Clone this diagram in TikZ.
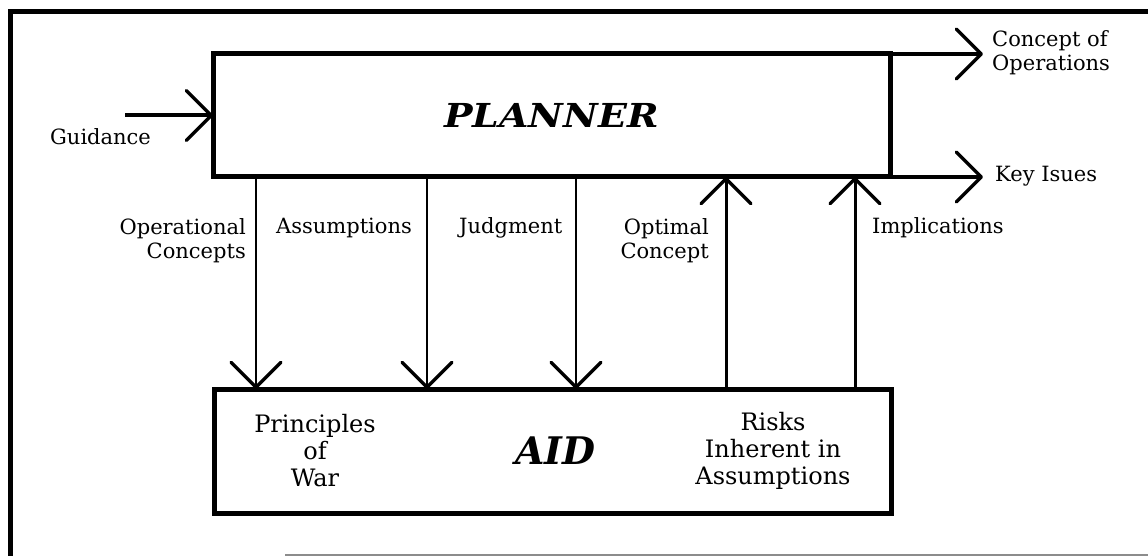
\documentclass[tikz,border=0pt]{standalone}
\usepackage{fontspec}
\setmainfont{DejaVu Serif}
\usepackage{graphicx}
\usetikzlibrary{arrows.meta}
\begin{document}
\begin{tikzpicture}[x=1pt,y=-1pt,
  box/.style={draw,line width=5pt,outer sep=0pt,inner sep=0pt},
  lbl/.style={font=\fontsize{21}{24}\selectfont,inner sep=0pt},
  inlbl/.style={font=\fontsize{24}{27}\selectfont,align=center,inner sep=0pt},
  barb/.style={-{Straight Barb[length=25pt,width=50pt,line width=3.5pt,round]}},
  thinarr/.style={barb,line width=2pt},
  thickarr/.style={barb,line width=3pt},
  bordarr/.style={barb,line width=4pt}]
\useasboundingbox (0,0) rectangle (1148,556);
% frame
\draw[line width=5pt] (1150,12) -- (10,12) -- (10,558);
\draw[line width=4pt,black!45] (285,556) -- (1150,556);
% boxes
\node[box,minimum width=677pt,minimum height=123pt] (planner) at (551.5,115.5)
  {\fontsize{33}{38}\selectfont\bfseries\itshape\scalebox{1.15}[1]{PLANNER}};
\node[box,minimum width=677pt,minimum height=124pt] (aid) at (552.5,451)
  {\fontsize{38}{44}\selectfont\bfseries\itshape\hspace*{6pt}AID};
% coordinates
\coordinate (xa) at (256,0);
\coordinate (xb) at (427,0);
\coordinate (xc) at (576,0);
\coordinate (xd) at (726,0);
\coordinate (xe) at (855,0);
\coordinate (gstart) at (125,115.5);
\coordinate (coend) at (983,54);
\coordinate (kiend) at (983,177);
% arrows
\draw[bordarr] (gstart) -- (planner.west);
\draw[bordarr] (planner.north east) -- (coend);
\draw[bordarr] (planner.south east) -- (kiend);
\draw[thinarr] (planner.south -| xa) -- (aid.north -| xa);
\draw[thinarr] (planner.south -| xb) -- (aid.north -| xb);
\draw[thinarr] (planner.south -| xc) -- (aid.north -| xc);
\draw[thickarr] (aid.north -| xd) -- (planner.south -| xd);
\draw[thickarr] (aid.north -| xe) -- (planner.south -| xe);
% labels
\node[lbl,anchor=west] (lgu) at (50,137) {Guidance};
\node[lbl,anchor=west,align=left] (lco) at (992,53) {Concept of\\Operations};
\node[lbl,anchor=west] (lki) at (995,176) {Key Isues};
\node[lbl,anchor=east,align=right] (lop) at (246,241) {Operational\\Concepts};
\node[lbl,anchor=west] (las) at (276,228) {Assumptions};
\node[lbl,anchor=west] (lju) at (459,228) {Judgment};
\node[lbl,anchor=east,align=right] (lopt) at (709,241) {Optimal\\Concept};
\node[lbl,anchor=west] (lim) at (872,228) {Implications};
\node[inlbl] (lpw) at (315,451) {Principles\\of\\War};
\node[inlbl] (lri) at (773,451) {Risks\\Inherent in\\Assumptions};
\end{tikzpicture}
\end{document}
